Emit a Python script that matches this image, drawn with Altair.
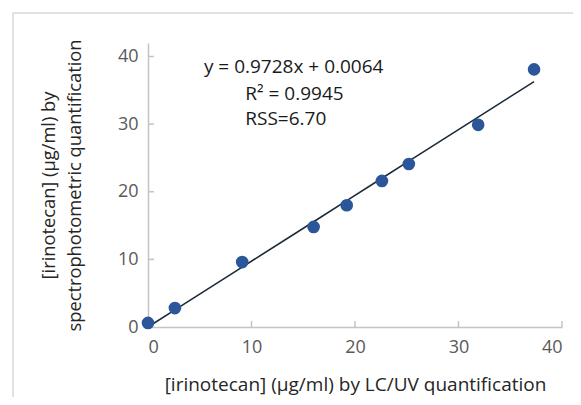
import altair as alt
import pandas as pd

# Data
lcuv = [0.0, 2.6, 9.1, 16.0, 19.2, 22.6, 25.2, 31.9, 37.3]
spectro = [0.6, 2.8, 9.6, 14.8, 18.0, 21.6, 24.1, 29.9, 38.1]
tick_vals = [10, 20, 30, 40]
ann_text = ["y = 0.9728x + 0.0064", "R² = 0.9945", "RSS=6.70"]
ann_x = [5.4, 9.4, 9.4]
ann_y = [38.4, 34.4, 30.8]

df = pd.DataFrame({"x": lcuv, "y": spectro})
ticks = pd.DataFrame({"v": tick_vals})
ann = pd.DataFrame({"t": ann_text, "x": ann_x, "y": ann_y})

W, H = 414, 284
FONT = "Open Sans"
GRAY = "#c4c4c4"
LAB = "#595959"

xs = alt.Scale(domain=[0, 40], nice=False, zero=False)
ys = alt.Scale(domain=[0, 42], nice=False, zero=False)

frame = alt.Chart(pd.DataFrame({"a": [0]})).mark_rect(
    fill=None, stroke="#d9d9d9", strokeWidth=1.5
).encode(
    x=alt.value(-135), x2=alt.value(W + 40),
    y=alt.value(-30), y2=alt.value(H + 120),
)

fit = alt.Chart(df).transform_calculate(
    fit="0.9728*datum.x + 0.0064"
).mark_line(color="#1c2a38", strokeWidth=1.6).encode(
    x=alt.X("x:Q", scale=xs, axis=alt.Axis(
        title="[irinotecan] (µg/ml) by LC/UV quantification",
        values=[0, 10, 20, 30, 40], ticks=False, grid=False,
        domainColor=GRAY, domainWidth=1.5,
        labelFont=FONT, labelFontSize=18, labelColor=LAB, labelPadding=11,
        titleFont=FONT, titleFontSize=19, titleFontWeight="normal",
        titleColor="#262626", titlePadding=19)),
    y=alt.Y("fit:Q", scale=ys, axis=alt.Axis(
        title=["[irinotecan] (µg/ml) by", "spectrophotometric quantification"],
        values=[0, 10, 20, 30, 40], ticks=False, grid=False,
        domainColor=GRAY, domainWidth=1.5,
        labelFont=FONT, labelFontSize=18, labelColor=LAB, labelPadding=10,
        titleFont=FONT, titleFontSize=18.3, titleFontWeight="normal",
        titleColor="#262626", titlePadding=33, titleLineHeight=26)),
)

pts = alt.Chart(df).mark_circle(size=160, color="#2b579a", opacity=1).encode(
    x=alt.X("x:Q", scale=xs), y=alt.Y("y:Q", scale=ys)
)

xt = alt.Chart(ticks).mark_rule(color=GRAY, strokeWidth=1.5).encode(
    x=alt.X("v:Q", scale=xs), y=alt.value(H), y2=alt.value(H - 6)
)
yt = alt.Chart(ticks).mark_rule(color=GRAY, strokeWidth=1.5).encode(
    y=alt.Y("v:Q", scale=ys), x=alt.value(0), x2=alt.value(6)
)

txt = alt.Chart(ann).mark_text(
    align="left", baseline="middle", font=FONT, fontSize=19, color="#1a1a1a"
).encode(x=alt.X("x:Q", scale=xs), y=alt.Y("y:Q", scale=ys), text="t:N")

chart = alt.layer(frame, xt, yt, fit, pts, txt).properties(
    width=W, height=H,
    autosize=alt.AutoSizeParams(type="none"),
    padding={"left": 140, "top": 35, "right": 11, "bottom": 70},
    background="white",
).configure_view(stroke=None)

chart.save("out.html", embed_options={"renderer": "svg", "actions": False})
